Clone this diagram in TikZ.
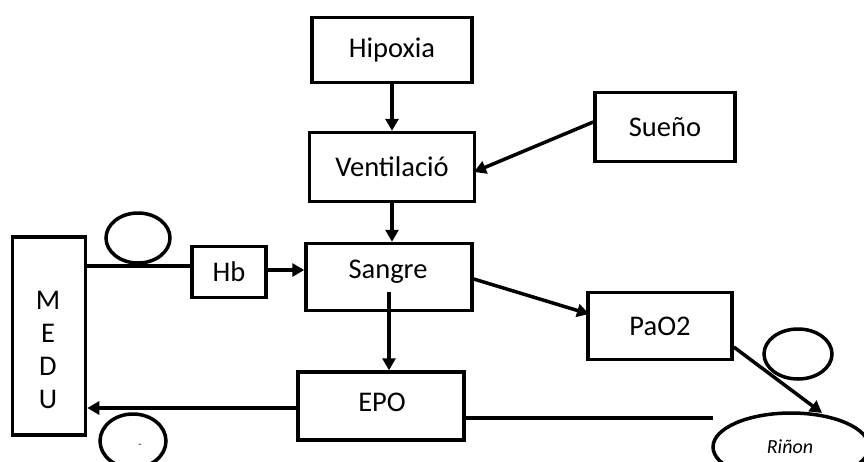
\documentclass[tikz,border=0pt]{standalone}
\usepackage{fontspec}
\setmainfont{Carlito}
\usetikzlibrary{arrows.meta}
\begin{document}
\begin{tikzpicture}[x=1pt,y=-1pt,
  txt/.style={font=\fontsize{28.5}{33}\selectfont},
  box/.style={draw,line width=3.5pt,inner sep=0pt,txt},
  conn/.style={line width=3.5pt},
  arr/.style={conn,-{Triangle[length=12pt,width=13pt]}}]
\useasboundingbox (0,0) rectangle (864,461);
\begin{scope}
\clip (0,0) rectangle (864,461);
\node[box,minimum width=160pt,minimum height=65pt] (hip) at (392,50) {Hipoxia};
\node[box,minimum width=165pt,minimum height=69pt] (ven) at (392,167) {Ventilació};
\node[box,minimum width=140pt,minimum height=69pt] (sue) at (665,127) {Sueño};
\node[box,minimum width=166pt,minimum height=67pt] (san) at (389,277) {};
\node[txt] (santx) at (388,272) {Sangre};
\node[box,minimum width=166pt,minimum height=68pt] (epo) at (381,406) {};
\node[txt] (epotx) at (382,402) {EPO};
\node[box,minimum width=144pt,minimum height=67pt] (pao) at (660,326) {PaO2};
\node[box,minimum width=74pt,minimum height=51pt] (hb) at (229,272) {Hb};
\node[box,minimum width=73pt,minimum height=198pt] (medu) at (49,336) {};
\node[txt,align=center] (medutx) at (48,350) {M\\E\\D\\U};
\draw[line width=3.5pt] (791,447) ellipse (78pt and 34pt);
\node[font=\fontsize{20}{22}\selectfont\itshape] (rin) at (790,447) {Riñon};
\coordinate (rinw) at (713,418);
\coordinate (rinn) at (822,413);
\draw[line width=3.5pt] (138,238) ellipse (32pt and 25pt);
\draw[line width=3.5pt] (798,354) ellipse (34pt and 25pt);
\draw[line width=3.5pt] (133,441) ellipse (33pt and 27pt);
\node[font=\fontsize{10}{12}\selectfont] (dash) at (140,446) {-};
\draw[arr] (hip.south) -- (ven.north);
\draw[arr] (sue.west |- 0,122) -- (474,172);
\draw[arr] (ven.south) -- (san.north -| ven.south);
\draw[arr] (389,292) -- (epo.north -| 389,0);
\draw[arr] (san.east |- 0,279) -- (589,314);
\draw[arr] (pao.east |- 0,347) -- (rinn);
\draw[conn] (epo.east |- 0,418) -- (rinw);
\draw[arr] (epo.west |- 0,408) -- (medu.east |- 0,408);
\draw[conn] (medu.east |- 0,266) -- (hb.west |- 0,266);
\draw[arr] (hb.east |- 0,270) -- (san.west |- 0,270);
\end{scope}
\end{tikzpicture}
\end{document}
